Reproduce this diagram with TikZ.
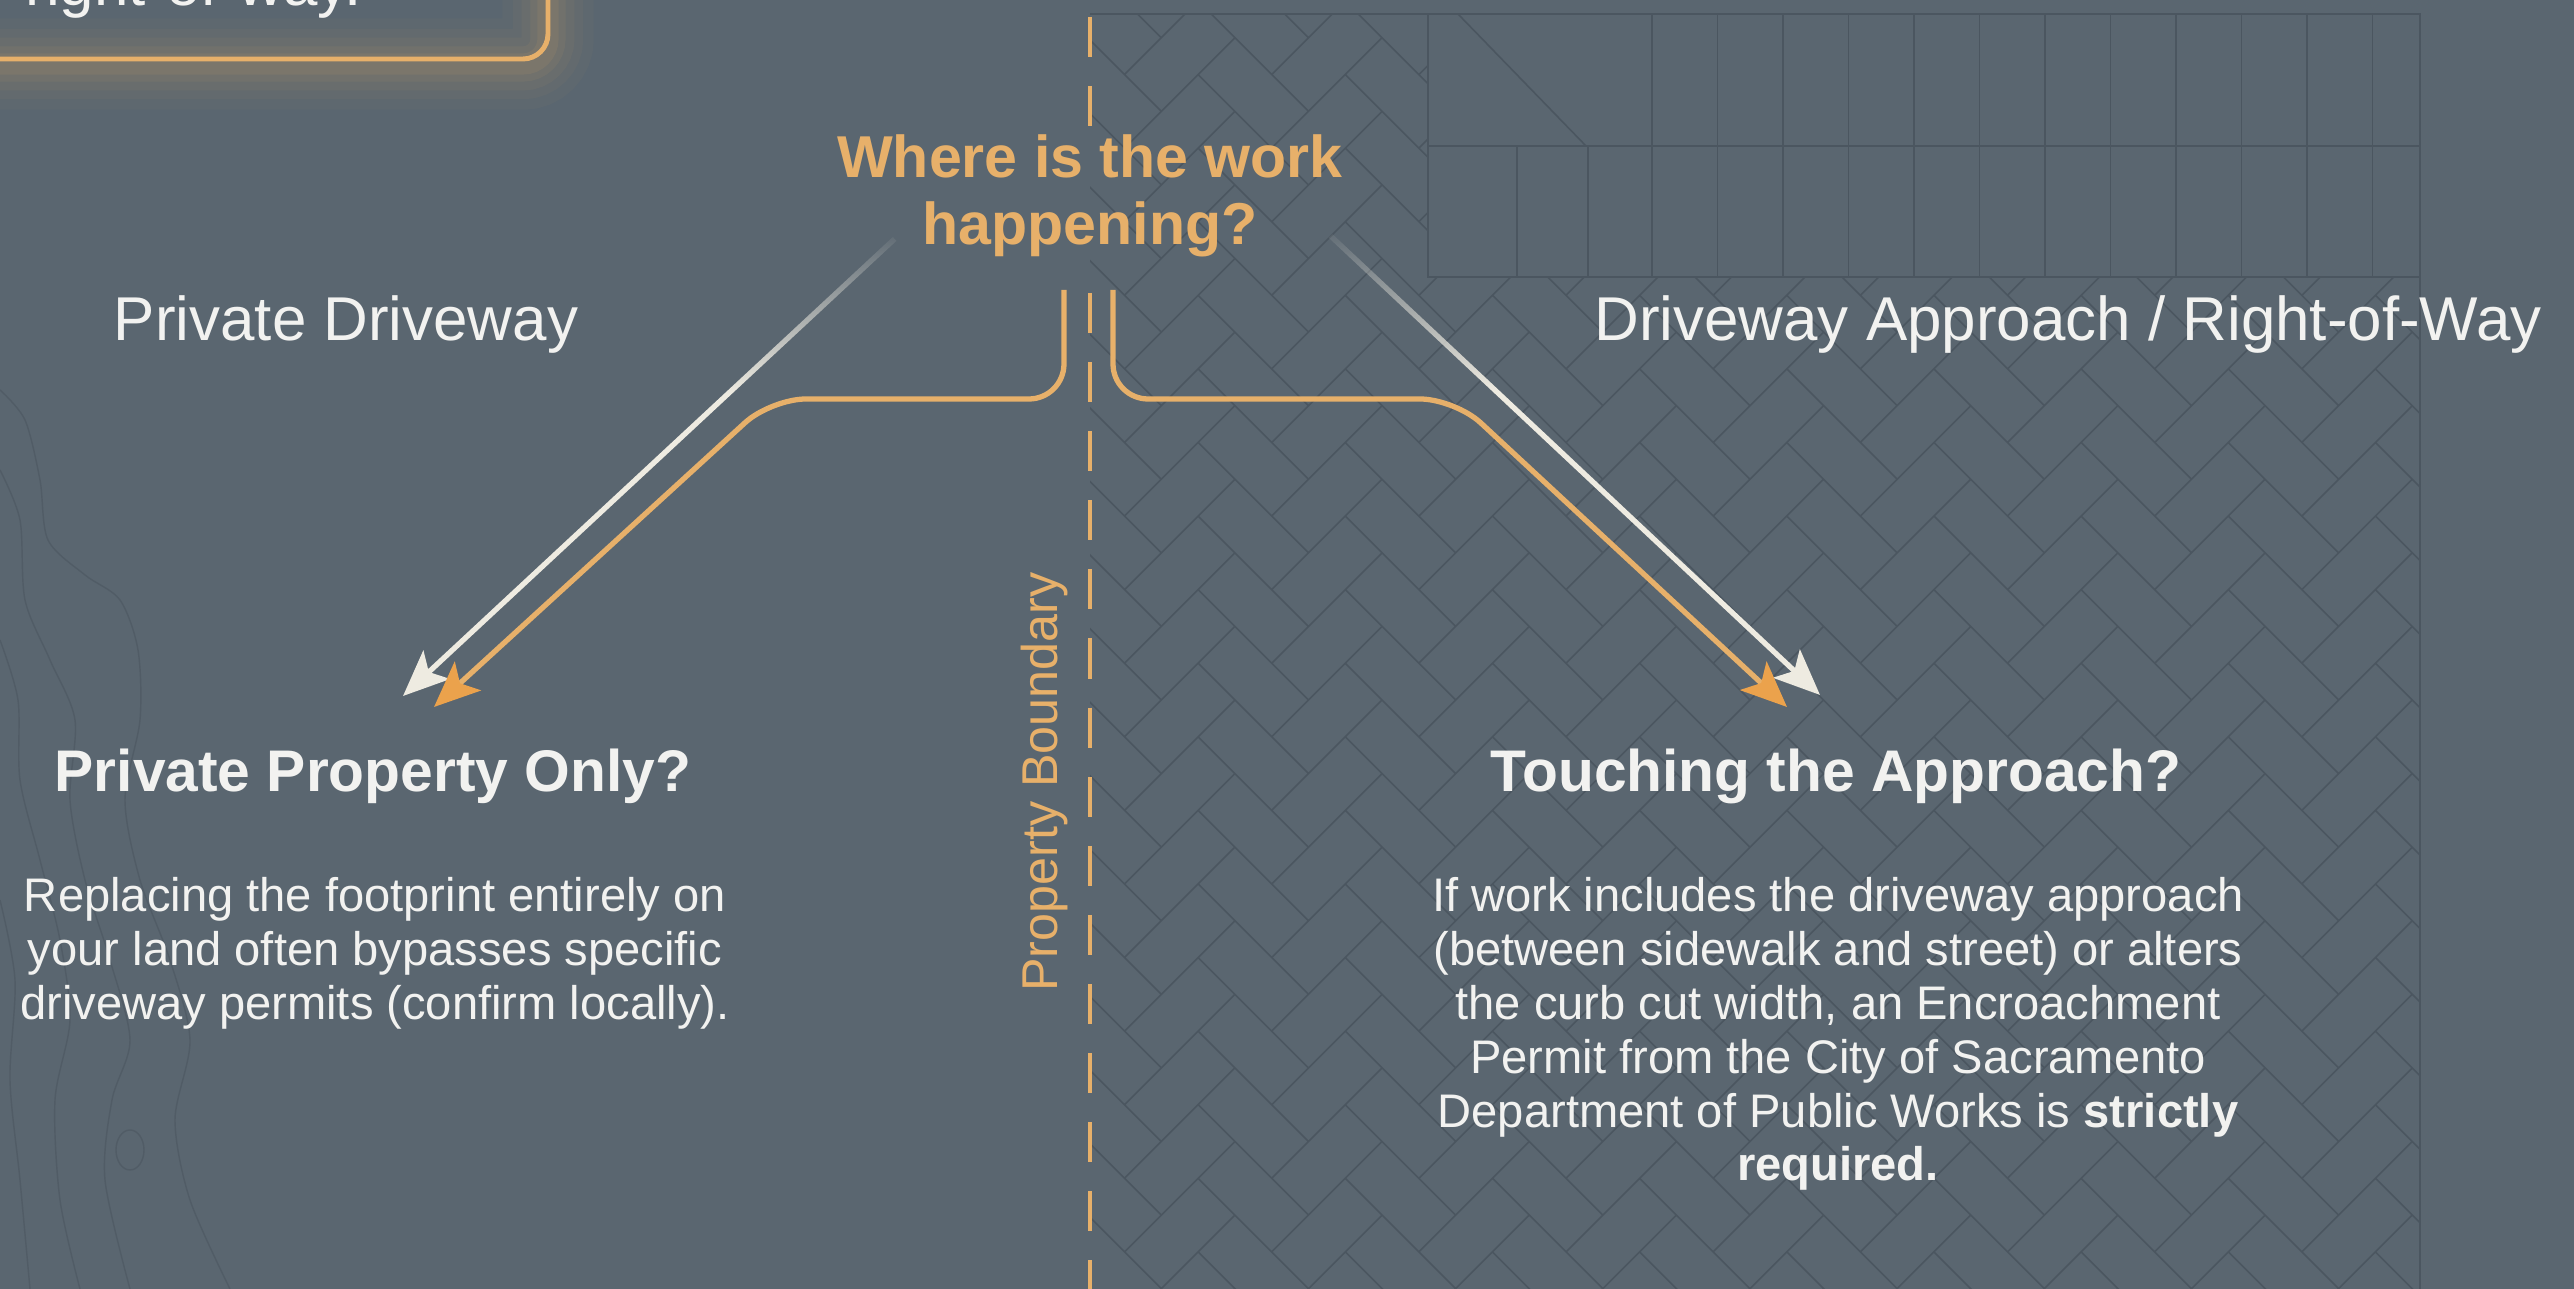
\documentclass[tikz,border=0pt]{standalone}
\usepackage{fontspec}
\setmainfont{Liberation Sans}
\usepackage{tikz}
\usetikzlibrary{arrows.meta, calc, fadings, positioning}

\definecolor{slate}{HTML}{5A6670}
\definecolor{gold}{HTML}{E7B06A}
\definecolor{amber}{HTML}{EBA24C}
\definecolor{cream}{HTML}{EEEBE1}
\definecolor{ink}{HTML}{F2F2F0}
\definecolor{seamcol}{HTML}{4B5660}

% white = opaque, black = see-through; the path covers 25bp..75bp
\pgfdeclareverticalshading{hintramp}{100bp}{color(0bp)=(white); color(58bp)=(white); color(76bp)=(black); color(100bp)=(black)}
\tikzfading[name=fadehint, shading=hintramp]
\tikzfading[name=fadeends, left color=transparent!100, middle color=transparent!0, right color=transparent!100]

\begin{document}
\begin{tikzpicture}[
    x=0.01cm, y=-0.01cm,
  every node/.style={inner sep=0pt},
  streetlabel/.style={font=\fontsize{17.6}{21}\selectfont, text=ink},
  heading/.style={font=\bfseries\fontsize{16.7}{20}\selectfont, text=ink},
  body/.style={font=\fontsize{13.4}{15.3}\selectfont, text=ink, align=center},
  question/.style={font=\bfseries\fontsize{16.8}{19.1}\selectfont, text=gold, align=center},
  boundary/.style={font=\fontsize{14.3}{17}\selectfont, text=gold, rotate=90},
  route/.style={draw=gold, line width=1.5pt, rounded corners=3.5mm,
    -{Stealth[length=13pt, width=11pt, inset=3pt, color=amber]}},
  hint/.style={draw=cream, line width=1.5pt, path fading=fadehint,
    -{Stealth[length=13pt, width=11pt, inset=3pt, color=cream]}},
  seam/.style={draw=seamcol, line width=0.45pt},
  goldrule/.style={fill=gold, path fading=fadeends},
  topo/.style={draw=seamcol, line width=0.4pt, opacity=0.6},
  propline/.style={draw=gold, line width=1.4pt, dash pattern=on 11.4pt off 8.25pt}
]

\useasboundingbox (0,0) rectangle (2574,1289);
\clip (0,0) rectangle (2574,1289);
\fill[slate] (0,0) rectangle (2574,1289);

% contour lines on the private side
\draw[topo] plot[smooth] coordinates {(0,390) (25,420) (40,480) (48,540) (85,575) (120,600) (138,650) (140,720) (125,800) (140,880) (170,960) (190,1040) (175,1120) (190,1200) (230,1289)};
\draw[topo] plot[smooth] coordinates {(0,470) (20,520) (25,600) (50,660) (75,720) (70,800) (85,880) (110,960) (130,1040) (112,1100) (105,1180) (130,1289)};
\draw[topo] plot[smooth] coordinates {(0,640) (18,700) (20,780) (40,860) (60,940) (70,1020) (55,1100) (60,1200) (80,1289)};
\draw[topo] plot[smooth] coordinates {(0,900) (15,980) (10,1080) (20,1180) (30,1289)};
\draw[topo] (130,1150) ellipse (14 and 20);

% herringbone pavers (2:1) in the right-of-way
\begin{scope}
  \clip (1090,14) -- (1428,14) -- (1428,277) -- (2420,277) -- (2420,1289) -- (1090,1289) -- cycle;
  \begin{scope}[shift={(1750,700)}, rotate=45, x=0.52cm, y=0.52cm]
    \draw[seam] \foreach \m in {-20,...,20} { \foreach \n in {-10,...,10} {
      ({\m+2*\n},{\m-2*\n}) rectangle +(2,1)
      ({\m+2*\n},{\m-2*\n+1}) rectangle +(1,2) } };
  \end{scope}
\end{scope}

% stacked pavers along the top
\draw[seam] (1090,14) -- (2420,14) -- (2420,1289);
\draw[seam] (1428,14) rectangle (2420,277);
\draw[seam] (1428,146) -- (2420,146);
\draw[seam] (1458,14) -- (1586,146);
\foreach \k in {0,...,11}
  \draw[seam] ({1652+65.5*\k},14) -- ({1652+65.5*\k},277);
\draw[seam] (1517,146) -- (1517,277) (1588,146) -- (1588,277);

% callout box from above, with its glow
\foreach \w/\o in {26/0.03, 20/0.04, 15/0.05, 10/0.07, 6/0.09}
  \draw[gold, line width=\w pt, opacity=\o, rounded corners=2.5mm] (-60,-100) rectangle (548,64);
\draw[gold, line width=1.4pt, rounded corners=2.5mm] (-60,-100) rectangle (548,59);
\node[streetlabel, anchor=base east] (rowNote) at (362,6) {right-of-way.};

% property line
\draw[propline] (1090,17) -- (1090,126);
\draw[propline] (1090,293) -- (1090,1289);
\node[boundary, anchor=base] (propLine) at (1057,782) {Property Boundary};

% labels
\node[question, anchor=north] (title) at (1090,134) {Where is the work\\happening?};
\node[streetlabel, anchor=base] (privLabel) at (346,341) {Private Driveway};
\node[streetlabel, anchor=base] (rowLabel) at (2068,341) {Driveway Approach / Right-of-Way};

\node[heading, anchor=base] (leftHead) at (373,792) {Private Property Only?};
\fill[goldrule] (83,836) rectangle (663,842);
\node[body, anchor=north] (leftBody) at (375,877) {Replacing the footprint entirely on\\your land often bypasses specific\\driveway permits (confirm locally).};

\node[heading, anchor=base] (rightHead) at (1836,792) {Touching the Approach?};
\fill[goldrule] (1544,836) rectangle (2116,842);
\node[body, anchor=north] (rightBody) at (1838,877) {If work includes the driveway approach\\(between sidewalk and street) or alters\\the curb cut width, an Encroachment\\Permit from the City of Sacramento\\Department of Public Works is \textbf{strictly}\\\textbf{required.}};

% arrows
\coordinate (lBend) at (771,399);
\coordinate (lTip) at (434,707);
\coordinate (rBend) at (1455,399);
\coordinate (rTip) at (1787,707);
\coordinate (lwTip) at (403,696);
\coordinate (rwTip) at (1820,695);

\draw[hint] ([xshift=0.58cm,yshift=-0.43cm]title.west) -- (lwTip);
\draw[hint] ([xshift=-0.13cm,yshift=-0.4cm]title.east) -- (rwTip);
\draw[route] ([xshift=-0.26cm,yshift=-0.32cm]title.south) |- (lBend) -- (lTip);
\draw[route] ([xshift=0.23cm,yshift=-0.32cm]title.south) |- (rBend) -- (rTip);

\end{tikzpicture}
\end{document}
